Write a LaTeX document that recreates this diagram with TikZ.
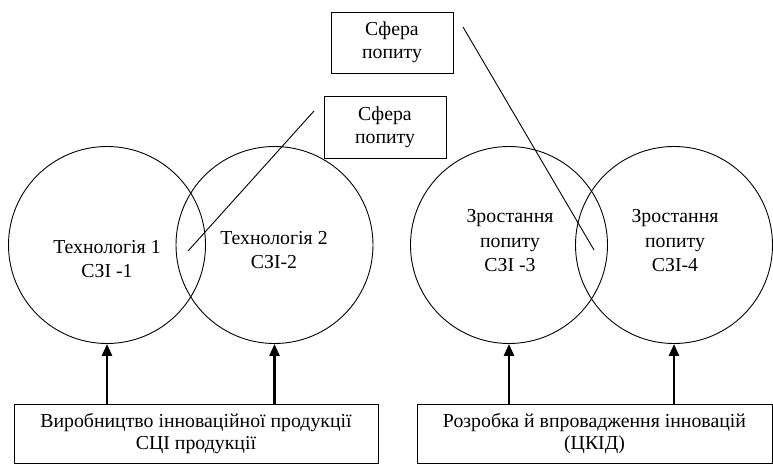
\documentclass[tikz,border=0pt]{standalone}
\usepackage{fontspec}
\setmainfont{Liberation Serif}
\usetikzlibrary{arrows.meta}
\begin{document}
\begin{tikzpicture}[x=1pt,y=-1pt,
  ring/.style={draw,circle,line width=0.9pt,minimum size=197pt,inner sep=0pt},
  ctext/.style={align=center,inner sep=0pt,font=\fontsize{19.8}{24.5}\selectfont},
  box/.style={draw,line width=0.9pt,align=center,inner sep=0pt,font=\fontsize{19.8}{21.5}\selectfont},
  thin/.style={line width=0.9pt},
  arr/.style={line width=2.6pt,-{Triangle[length=12pt,width=10pt]}}]
\useasboundingbox (0,0) rectangle (773,465);
% circles
\node[ring] (c1) at (107,245) {};
\node[ring] (c2) at (274.5,245) {};
\node[ring] (c3) at (509,245) {};
\node[ring] (c4) at (674,245) {};
% circle texts
\node[ctext] (t1) at (107,259) {Технологія 1\\СЗІ -1};
\node[ctext] (t2) at (274,250) {Технологія 2\\СЗІ-2};
\node[ctext] (t3) at (510,241) {Зростання\\попиту\\СЗІ -3};
\node[ctext] (t4) at (675,241) {Зростання\\попиту\\СЗІ-4};
% boxes
\node[box,minimum width=122pt,minimum height=61pt,font=\fontsize{19.8}{23}\selectfont] (s1) at (392,42.5) {Сфера\\попиту};
\node[box,minimum width=122pt,minimum height=62pt,font=\fontsize{19.8}{23}\selectfont] (s2) at (385,127) {Сфера\\попиту};
\node[box,minimum width=364pt,minimum height=59pt] (b1) at (196,433.5) {Виробництво інноваційної продукції\\СЦІ продукції};
\node[box,minimum width=355pt,minimum height=59pt] (b2) at (594.5,433.5) {Розробка й впровадження інновацій\\(ЦКІД)};
% free lines
\coordinate (l1a) at (188,251);
\coordinate (l1b) at (314,111);
\coordinate (l2a) at (463,27);
\coordinate (l2b) at (594,250);
\draw[thin] (l1a) -- (l1b);
\draw[thin] (l2a) -- (l2b);
% arrows
\draw[arr] (c1.south |- b1.north) -- (c1.south);
\draw[arr] (c2.south |- b1.north) -- (c2.south);
\draw[arr] (c3.south |- b2.north) -- (c3.south);
\draw[arr] (c4.south |- b2.north) -- (c4.south);
\end{tikzpicture}
\end{document}
